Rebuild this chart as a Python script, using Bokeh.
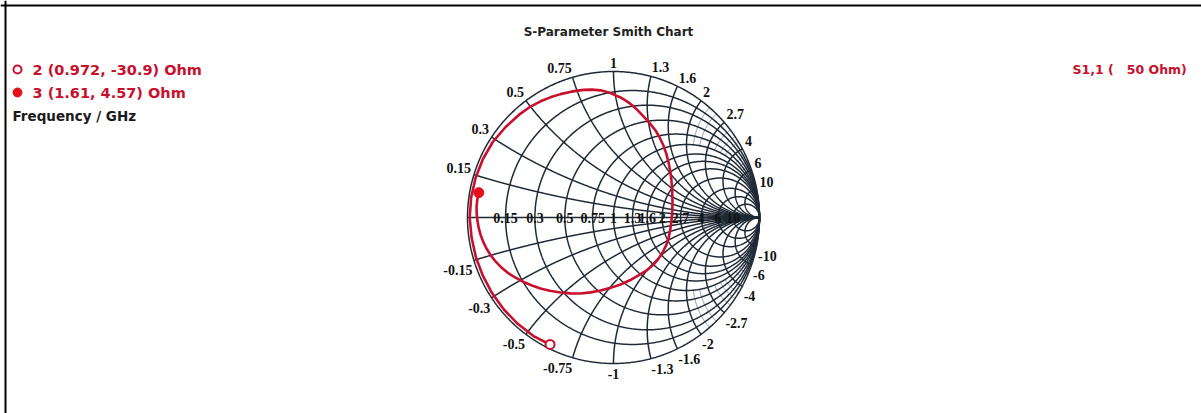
import numpy as np
from bokeh.plotting import figure
from bokeh.models import Label, Span
from bokeh.embed import file_html
from bokeh.resources import INLINE

# ---------------- data ----------------
Z0 = 50.0  # reference impedance, Ohm

# S11 reflection coefficient over the sweep (real / imaginary parts),
# between the two marker points
s11_re = [-0.548, -0.656, -0.751, -0.831, -0.895, -0.943, -0.972, -0.985,
          -0.975, -0.945, -0.895, -0.827, -0.739, -0.639,
          -0.568, -0.500, -0.432, -0.363, -0.290, -0.205, -0.147, -0.089,
          -0.020, 0.048, 0.090, 0.130, 0.168, 0.205, 0.249, 0.288, 0.318,
          0.342, 0.362, 0.377, 0.389, 0.397, 0.402, 0.404,
          0.403, 0.397, 0.389, 0.377, 0.359, 0.336, 0.305, 0.267, 0.222,
          0.171, 0.112, 0.048, -0.020, -0.089, -0.157, -0.226, -0.294, -0.363,
          -0.437, -0.500, -0.563, -0.623, -0.677, -0.726, -0.770, -0.808,
          -0.842, -0.870, -0.893, -0.911, -0.924, -0.932, -0.937, -0.938, -0.933]
s11_im = [-0.812, -0.728, -0.630, -0.519, -0.398, -0.270, -0.137, 0.000,
          0.137, 0.271, 0.399, 0.517, 0.620, 0.710,
          0.760, 0.796, 0.823, 0.845, 0.862, 0.874, 0.876, 0.871,
          0.852, 0.822, 0.797, 0.767, 0.732, 0.692, 0.645, 0.596, 0.545,
          0.493, 0.436, 0.377, 0.315, 0.253, 0.185, 0.116,
          0.047, -0.021, -0.083, -0.144, -0.194, -0.240, -0.287, -0.329, -0.366,
          -0.397, -0.430, -0.459, -0.482, -0.500, -0.513, -0.521, -0.520, -0.514,
          -0.502, -0.486, -0.464, -0.438, -0.409, -0.377, -0.340, -0.301,
          -0.258, -0.212, -0.165, -0.116, -0.068, -0.021, 0.027, 0.075, 0.123]

# markers: id, resistance and reactance in Ohm
marker_ids = ["2", "3"]
marker_r_ohm = [0.972, 1.61]
marker_x_ohm = [-30.9, 4.57]

# normalized grid values (resistance circles and reactance arcs)
grid_values = [0.15, 0.3, 0.5, 0.75, 1, 1.3, 1.6, 2, 2.7, 4, 6, 10]
# finer reactance divisions near the rim at high reactance
fine_values = [2.2, 2.4, 3.0, 3.3, 3.6, 4.5, 5.0, 5.5, 7.0, 8.0, 9.0]

# ---------------- layout ----------------
W, H = 1201, 413
CX, CY, RPX = 613, 217, 146      # chart centre and radius in page pixels

TRACE = "#c8102e"
GRID = "#1f2a36"
FINE = "#4a6786"


def px(x, y):
    """page pixel -> plot data coordinates"""
    return (x - CX) / RPX, (CY - y) / RPX


def gamma(z):
    return (z - 1) / (z + 1)


p = figure(width=W, height=H, output_backend="svg", toolbar_location=None,
           x_range=(-CX / RPX, (W - CX) / RPX),
           y_range=(-(H - CY) / RPX, CY / RPX),
           x_axis_location=None, y_axis_location=None, min_border=0)
p.grid.visible = False
p.outline_line_color = None
p.background_fill_color = "white"
p.border_fill_color = "white"

# page frame (top and left edges)
p.add_layout(Span(location=px(0, 5)[1], dimension="width", line_color="black", line_width=2))
p.add_layout(Span(location=px(5, 0)[0], dimension="height", line_color="black", line_width=2))

# ---------------- Smith grid ----------------
th = np.linspace(-np.pi / 2 + 1e-3, np.pi / 2 - 1e-3, 801)
u = np.linspace(0.0, 0.9995, 700)


def r_circle(r):
    g = gamma(r + 1j * np.tan(th))
    return list(g.real), list(g.imag)


def x_arc(x, rmax=None):
    if rmax is None:
        g = gamma(u / (1 - u) + 1j * x)
        g = np.append(g, 1 + 0j)
    else:
        g = gamma(np.linspace(0.0, rmax, 200) + 1j * x)
    return list(g.real), list(g.imag)


xs, ys = [], []
for v in fine_values:
    for s in (1, -1):
        a, b = x_arc(s * v, rmax=1.0)
        xs.append(a); ys.append(b)
p.multi_line(xs, ys, line_color=FINE, line_width=0.7)

xs, ys = [], []
for v in grid_values:
    a, b = r_circle(v)
    xs.append(a); ys.append(b)
    for s in (1, -1):
        a, b = x_arc(s * v)
        xs.append(a); ys.append(b)
a, b = r_circle(0.0)
xs.append(a); ys.append(b)
xs.append([-1, 1]); ys.append([0, 0])
p.multi_line(xs, ys, line_color=GRID, line_width=1.5)

# ---------------- S11 trace and markers ----------------
mk = [gamma(complex(r, x) / Z0) for r, x in zip(marker_r_ohm, marker_x_ohm)]
tr_x = [mk[0].real] + s11_re + [mk[1].real]
tr_y = [mk[0].imag] + s11_im + [mk[1].imag]
p.line(tr_x, tr_y, line_color=TRACE, line_width=2.6, line_join="round")

p.scatter([mk[0].real], [mk[0].imag], size=9, marker="circle",
          fill_color="white", line_color=TRACE, line_width=2)
p.scatter([mk[1].real], [mk[1].imag], size=10, marker="circle",
          fill_color="#e3101c", line_color="#e3101c")

# ---------------- labels ----------------
LFONT = "Liberation Serif"
LSIZE = "14px"
PUSH = 3.0 / RPX   # labels sit just outside the rim

for v in grid_values:
    txt = f"{v:g}"
    # resistance value on the real axis
    gx = (v - 1) / (v + 1)
    p.add_layout(Label(x=gx, y=0, text=txt, text_align="center", text_baseline="middle",
                       text_font=LFONT, text_font_size=LSIZE, text_font_style="bold",
                       text_color="#111111"))
    # reactance values around the rim
    ex = (v * v - 1) / (v * v + 1)
    ey = 2 * v / (v * v + 1)
    align = "right" if v < 1 else ("left" if v > 1 else "center")
    p.add_layout(Label(x=ex * (1 + PUSH), y=ey * (1 + PUSH) + 1 / RPX, text=txt,
                       text_align=align, text_baseline="bottom",
                       text_font=LFONT, text_font_size=LSIZE, text_font_style="bold",
                       text_color="#111111"))
    p.add_layout(Label(x=ex * (1 + PUSH / 2), y=-ey - 5 / RPX, text=f"-{txt}",
                       text_align=align, text_baseline="top",
                       text_font=LFONT, text_font_size=LSIZE, text_font_style="bold",
                       text_color="#111111"))

# title
tx, ty = px(608, 31)
p.add_layout(Label(x=tx, y=ty, text="S-Parameter Smith Chart", text_align="center",
                   text_baseline="middle", text_font="DejaVu Sans", text_font_size="12px",
                   text_font_style="bold", text_color="#222222"))

# marker legend
LEG_FONT = "DejaVu Sans"
leg_rows = [69, 92]
for i, (mid, r, x) in enumerate(zip(marker_ids, marker_r_ohm, marker_x_ohm)):
    lx, ly = px(17, leg_rows[i])
    if i == 0:
        p.scatter([lx], [ly], size=8, marker="circle", fill_color="white",
                  line_color=TRACE, line_width=2)
    else:
        p.scatter([lx], [ly], size=9, marker="circle", fill_color="#e3101c",
                  line_color="#e3101c")
    tx, ty = px(32, leg_rows[i])
    p.add_layout(Label(x=tx, y=ty, text=f"{mid} ({r:g}, {x:g}) Ohm", text_align="left",
                       text_baseline="middle", text_font=LEG_FONT, text_font_size="14.5px",
                       text_font_style="bold", text_color=TRACE))
tx, ty = px(12, 115)
p.add_layout(Label(x=tx, y=ty, text="Frequency / GHz", text_align="left",
                   text_baseline="middle", text_font=LEG_FONT, text_font_size="13.5px",
                   text_font_style="bold", text_color="#1a1a1a"))

# trace legend at the right
tx, ty = px(1072, 69)
p.add_layout(Label(x=tx, y=ty, text="S1,1 (\u00a0\u00a0\u00a050 Ohm)", text_align="left",
                   text_baseline="middle", text_font=LEG_FONT, text_font_size="12.5px",
                   text_font_style="bold", text_color=TRACE))

open("out.html", "w").write(file_html(p, INLINE))
